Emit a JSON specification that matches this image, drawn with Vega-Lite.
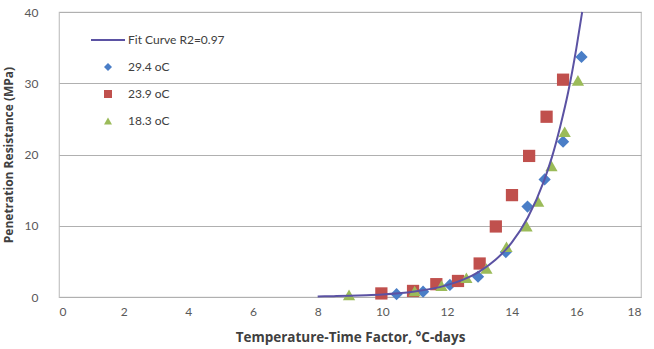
{
  "$schema": "https://vega.github.io/schema/vega-lite/v6.json",
  "width": 582,
  "height": 285,
  "autosize": {"type": "none"},
  "padding": {"left": 59, "top": 12, "right": 13, "bottom": 52},
  "background": "white",
  "config": {
    "font": "Lato",
    "view": {"stroke": "#C4C4C4", "strokeWidth": 1.2},
    "axis": {
      "labelFont": "Lato",
      "labelFontSize": 12,
      "labelColor": "#595959",
      "titleFont": "Open Sans",
      "titleFontWeight": "bold",
      "titleColor": "#404040",
      "domain": false,
      "ticks": false
    },
    "legend": {"labelFont": "Lato", "labelFontSize": 12, "labelColor": "#404040"}
  },
  "data": {
    "values": [
      {"series": "Fit Curve R2=0.97", "x": 8.0, "y": 0.08},
      {"series": "Fit Curve R2=0.97", "x": 8.5, "y": 0.12},
      {"series": "Fit Curve R2=0.97", "x": 9.0, "y": 0.17},
      {"series": "Fit Curve R2=0.97", "x": 9.5, "y": 0.25},
      {"series": "Fit Curve R2=0.97", "x": 10.0, "y": 0.36},
      {"series": "Fit Curve R2=0.97", "x": 10.5, "y": 0.53},
      {"series": "Fit Curve R2=0.97", "x": 11.0, "y": 0.78},
      {"series": "Fit Curve R2=0.97", "x": 11.5, "y": 1.14},
      {"series": "Fit Curve R2=0.97", "x": 12.0, "y": 1.67},
      {"series": "Fit Curve R2=0.97", "x": 12.5, "y": 2.44},
      {"series": "Fit Curve R2=0.97", "x": 13.0, "y": 3.57},
      {"series": "Fit Curve R2=0.97", "x": 13.5, "y": 5.22},
      {"series": "Fit Curve R2=0.97", "x": 14.0, "y": 7.63},
      {"series": "Fit Curve R2=0.97", "x": 14.5, "y": 11.16},
      {"series": "Fit Curve R2=0.97", "x": 15.0, "y": 16.3},
      {"series": "Fit Curve R2=0.97", "x": 15.25, "y": 19.7},
      {"series": "Fit Curve R2=0.97", "x": 15.5, "y": 23.9},
      {"series": "Fit Curve R2=0.97", "x": 15.75, "y": 28.8},
      {"series": "Fit Curve R2=0.97", "x": 16.0, "y": 34.9},
      {"series": "Fit Curve R2=0.97", "x": 16.18, "y": 40.0},

      {"series": "29.4 oC", "x": 10.44, "y": 0.4},
      {"series": "29.4 oC", "x": 11.26, "y": 0.75},
      {"series": "29.4 oC", "x": 12.09, "y": 1.7},
      {"series": "29.4 oC", "x": 12.96, "y": 2.85},
      {"series": "29.4 oC", "x": 13.82, "y": 6.3},
      {"series": "29.4 oC", "x": 14.49, "y": 12.7},
      {"series": "29.4 oC", "x": 15.02, "y": 16.5},
      {"series": "29.4 oC", "x": 15.59, "y": 21.8},
      {"series": "29.4 oC", "x": 16.16, "y": 33.7},

      {"series": "23.9 oC", "x": 9.97, "y": 0.5},
      {"series": "23.9 oC", "x": 10.95, "y": 0.85},
      {"series": "23.9 oC", "x": 11.67, "y": 1.8},
      {"series": "23.9 oC", "x": 12.34, "y": 2.25},
      {"series": "23.9 oC", "x": 13.01, "y": 4.7},
      {"series": "23.9 oC", "x": 13.51, "y": 9.9},
      {"series": "23.9 oC", "x": 14.01, "y": 14.3},
      {"series": "23.9 oC", "x": 14.54, "y": 19.8},
      {"series": "23.9 oC", "x": 15.08, "y": 25.3},
      {"series": "23.9 oC", "x": 15.59, "y": 30.5},

      {"series": "18.3 oC", "x": 8.97, "y": 0.3},
      {"series": "18.3 oC", "x": 11.0, "y": 0.85},
      {"series": "18.3 oC", "x": 11.83, "y": 1.6},
      {"series": "18.3 oC", "x": 12.6, "y": 2.7},
      {"series": "18.3 oC", "x": 13.22, "y": 4.0},
      {"series": "18.3 oC", "x": 13.84, "y": 7.05},
      {"series": "18.3 oC", "x": 14.46, "y": 9.95},
      {"series": "18.3 oC", "x": 14.82, "y": 13.4},
      {"series": "18.3 oC", "x": 15.23, "y": 18.4},
      {"series": "18.3 oC", "x": 15.64, "y": 23.2},
      {"series": "18.3 oC", "x": 16.05, "y": 30.4}
    ]
  },
  "encoding": {
    "x": {
      "field": "x",
      "type": "quantitative",
      "scale": {"domain": [0, 18], "nice": false},
      "axis": {
        "title": "Temperature-Time Factor, °C-days",
        "titleFontSize": 13.5,
        "values": [0, 2, 4, 6, 8, 10, 12, 14, 16, 18],
        "grid": false,
        "labelPadding": 9,
        "titlePadding": 13
      }
    },
    "y": {
      "field": "y",
      "type": "quantitative",
      "scale": {"domain": [0, 40], "nice": false},
      "axis": {
        "title": "Penetration Resistance (MPa)",
        "titleFontSize": 12,
        "values": [0, 10, 20, 30, 40],
        "grid": true,
        "gridColor": "#B0B0B0",
        "gridWidth": 1,
        "labelPadding": 21,
        "titlePadding": 9
      }
    },
    "color": {
      "field": "series",
      "type": "nominal",
      "scale": {
        "domain": ["Fit Curve R2=0.97", "29.4 oC", "23.9 oC", "18.3 oC"],
        "range": ["#5B52A3", "#4A7EC7", "#C0504D", "#9BBB59"]
      },
      "legend": {
        "title": null,
        "orient": "none",
        "legendX": 43,
        "legendY": 22,
        "symbolSize": 64,
        "symbolStrokeWidth": 0,
        "symbolOpacity": 1,
        "labelOffset": 14,
        "rowPadding": 15,
        "encode": {
          "symbols": {
            "update": {
              "stroke": {"scale": "color", "field": "value"},
              "strokeWidth": {"signal": "datum.value === 'Fit Curve R2=0.97' ? 2 : 0"},
              "size": {"signal": "datum.value === 'Fit Curve R2=0.97' ? 1156 : 64"}
            }
          }
        }
      }
    }
  },
  "layer": [
    {
      "transform": [{"filter": "datum.series !== 'Fit Curve R2=0.97'"}],
      "mark": {"type": "point", "filled": true, "opacity": 1, "size": 150},
      "encoding": {
        "shape": {
          "field": "series",
          "type": "nominal",
          "scale": {
            "domain": ["Fit Curve R2=0.97", "29.4 oC", "23.9 oC", "18.3 oC"],
            "range": ["stroke", "diamond", "square", "triangle-up"]
          }
        }
      }
    },
    {
      "transform": [{"filter": "datum.series === 'Fit Curve R2=0.97'"}],
      "mark": {"type": "line", "strokeWidth": 2, "interpolate": "monotone"},
      "encoding": {}
    }
  ]
}
